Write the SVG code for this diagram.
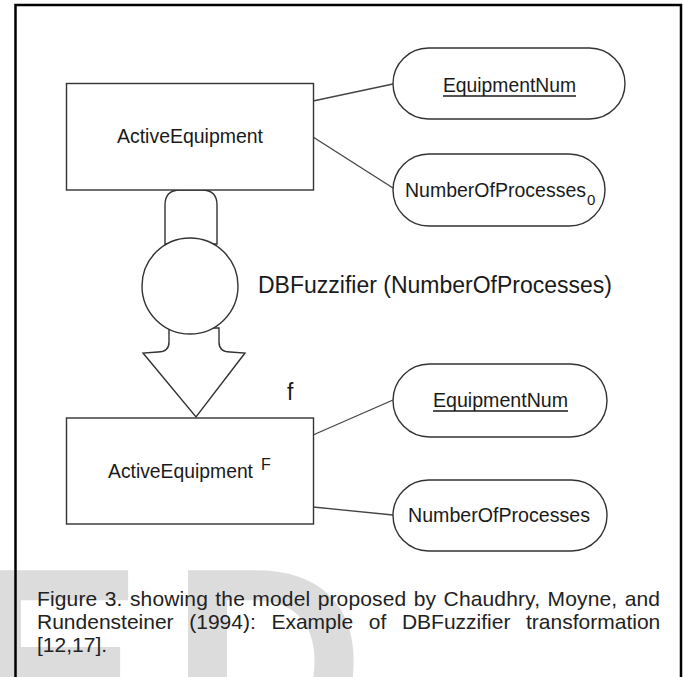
<svg xmlns="http://www.w3.org/2000/svg" width="684" height="677" viewBox="0 0 684 677">
<style>
.node{fill:#fff;stroke:#333;stroke-width:1.4}
.conn{stroke:#444;stroke-width:1.3;fill:none}
.lbl{font-family:"Liberation Sans",Arial,sans-serif;font-size:21px;fill:#1a1a1a}
.cap{font-family:"Liberation Sans",Arial,sans-serif;font-size:21px;fill:#222}
.wm{font-family:"Liberation Sans",Arial,sans-serif;font-weight:bold;font-size:270px;fill:#dcdcdc}
</style>
<rect width="684" height="677" fill="#fff"/>
<g id="watermark">
<text class="wm" x="-36" y="756">E</text>
<text class="wm" x="170" y="756">D</text>
</g>
<rect id="frame" x="15.5" y="5" width="665.5" height="700" fill="none" stroke="#000" stroke-width="2.5"/>
<g id="connectors">
<line class="conn" x1="313" y1="101" x2="393" y2="84"/>
<line class="conn" x1="313" y1="137" x2="393" y2="188"/>
<line class="conn" x1="313" y1="435" x2="393" y2="400"/>
<line class="conn" x1="313" y1="507" x2="393" y2="515"/>
</g>
<g id="transform">
<path class="node" d="M165,244 L165,205 Q165,190 180,190 L202,190 Q217,190 217,205 L217,244 Z"/>
<path class="node" d="M169,328 L169,342 Q169,352 158,352 L143,353 L196,417 L245,353 L230,352 Q219,352 219,342 L219,328 Z"/>
<circle class="node" cx="190" cy="286" r="48"/>
</g>
<g id="ActiveEquipment">
<rect class="node" x="66.5" y="83.5" width="247" height="106.5"/>
<text class="lbl" x="117" y="143" textLength="146" lengthAdjust="spacingAndGlyphs">ActiveEquipment</text>
</g>
<g id="EquipmentNum1">
<rect class="node" x="393" y="48" width="232" height="71" rx="35.5" ry="35.5"/>
<text class="lbl" x="443" y="92" textLength="133" lengthAdjust="spacingAndGlyphs">EquipmentNum</text>
<line x1="443" y1="96" x2="576" y2="96" stroke="#1a1a1a" stroke-width="1.4"/>
</g>
<g id="NumberOfProcesses0">
<rect class="node" x="393" y="154" width="212" height="72" rx="36" ry="36"/>
<text class="lbl" x="405" y="197" textLength="181" lengthAdjust="spacingAndGlyphs">NumberOfProcesses</text>
<text class="lbl" x="587" y="205" style="font-size:15px">0</text>
</g>
<g id="DBFuzzifierLabel">
<text class="lbl" x="258" y="293" style="font-size:23px">DBFuzzifier (NumberOfProcesses)</text>
</g>
<g id="fLabel">
<text class="lbl" x="287" y="400" style="font-size:23px">f</text>
</g>
<g id="ActiveEquipmentF">
<rect class="node" x="66.5" y="418" width="247" height="106"/>
<text class="lbl" x="108" y="478" textLength="145" lengthAdjust="spacingAndGlyphs">ActiveEquipment</text>
<text class="lbl" x="261" y="470" style="font-size:16px">F</text>
</g>
<g id="EquipmentNum2">
<rect class="node" x="393" y="364" width="214" height="73" rx="36.5" ry="36.5"/>
<text class="lbl" x="433" y="407" textLength="135" lengthAdjust="spacingAndGlyphs">EquipmentNum</text>
<line x1="433" y1="411" x2="568" y2="411" stroke="#1a1a1a" stroke-width="1.4"/>
</g>
<g id="NumberOfProcesses">
<rect class="node" x="393" y="480" width="214" height="71" rx="35.5" ry="35.5"/>
<text class="lbl" x="408" y="522" textLength="182" lengthAdjust="spacingAndGlyphs">NumberOfProcesses</text>
</g>
<g id="caption">
<text class="cap" x="37" y="606" textLength="623" lengthAdjust="spacing" style="word-spacing:1.4px">Figure 3. showing the model proposed by Chaudhry, Moyne, and</text>
<text class="cap" x="37" y="629" style="word-spacing:9.8px">Rundensteiner (1994): Example of DBFuzzifier transformation</text>
<text class="cap" x="37" y="652">[12,17].</text>
</g>
</svg>
